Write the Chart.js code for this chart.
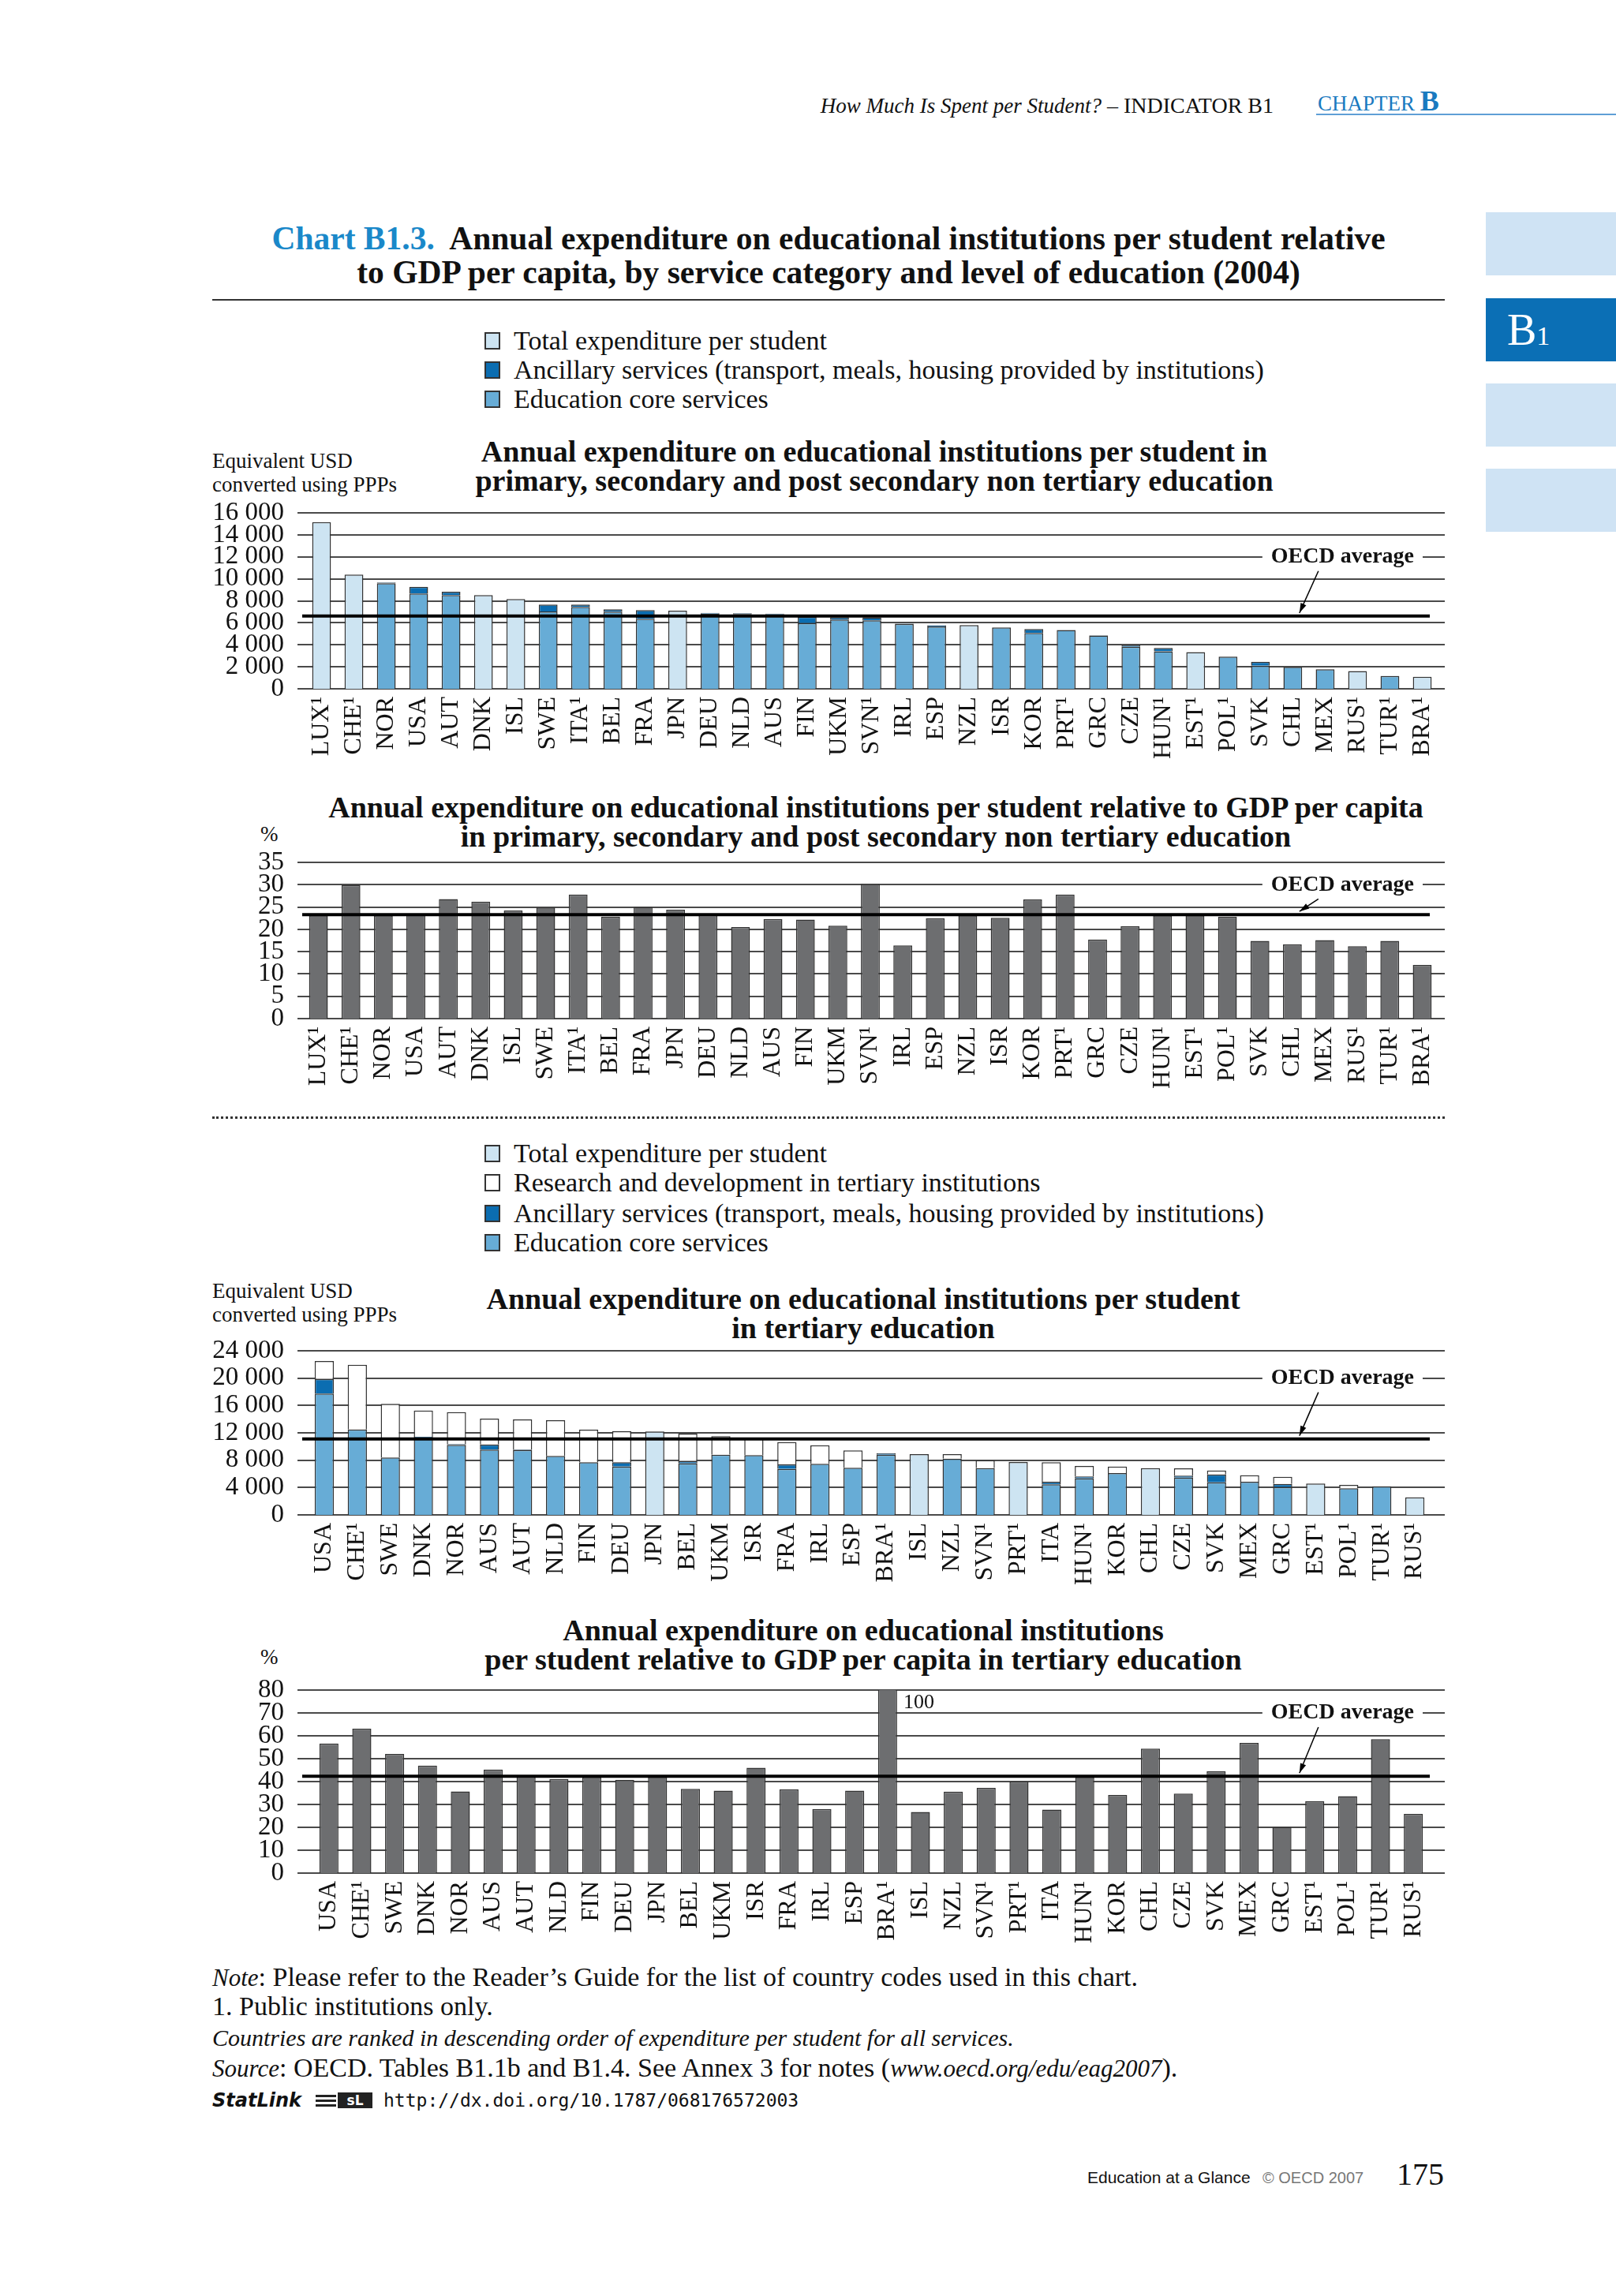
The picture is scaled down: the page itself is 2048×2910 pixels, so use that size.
<!DOCTYPE html>
<html><head><meta charset="utf-8">
<script src="https://cdn.jsdelivr.net/npm/chart.js@4"></script>
<style>
html,body{margin:0;padding:0;background:#fff;}
body{width:2048px;height:2910px;position:relative;overflow:hidden;font-family:"Liberation Serif",serif;color:#111;}
.abs{position:absolute;white-space:nowrap;}
.cc{position:absolute;left:0;width:2048px;}
.sq{position:absolute;left:614px;width:20px;height:22px;border:2px solid #333;box-sizing:border-box;}
.leg{position:absolute;left:651px;font-size:34px;line-height:36px;white-space:nowrap;}
.sub{position:absolute;font-weight:bold;font-size:38px;line-height:37px;text-align:center;white-space:nowrap;width:1800px;}
.unit{position:absolute;left:269px;font-size:27px;line-height:30px;white-space:nowrap;}
.tab{position:absolute;left:1883px;width:165px;height:80px;background:#cfe3f4;}
.foot{position:absolute;left:269px;font-size:34px;line-height:38px;white-space:nowrap;}
.foot i{font-size:31px;}
</style></head><body>

<!-- running header -->
<div class="abs" style="right:434px;top:116px;line-height:36px;"><span style="font-style:italic;font-size:27px;">How Much Is Spent per Student?</span><span style="font-size:28px;"> – INDICATOR B1</span></div>
<div class="abs" style="left:1670px;top:108px;line-height:40px;color:#1a7abf;"><span style="font-size:27px;">CHAPTER </span><span style="font-size:36px;font-weight:bold;">B</span></div>
<div class="abs" style="left:1668px;top:144px;width:380px;height:2px;background:#5f9fd6;"></div>

<!-- side tabs -->
<div class="tab" style="top:269px;"></div>
<div class="tab" style="top:378px;background:#0b6fb5;"><div class="abs" style="left:27px;top:8px;color:#fff;line-height:64px;"><span style="font-size:56px;">B</span><span style="font-size:34px;">1</span></div></div>
<div class="tab" style="top:486px;"></div>
<div class="tab" style="top:594px;"></div>

<!-- main title -->
<div class="abs" style="left:250px;width:1600px;top:281px;text-align:center;font-weight:bold;font-size:41.5px;line-height:43px;"><span style="color:#1a88c9;">Chart B1.3.</span>&nbsp; Annual expenditure on educational institutions per student relative<br>to GDP per capita, by service category and level of education (2004)</div>
<div class="abs" style="left:269px;top:379px;width:1562px;height:2px;background:#333;"></div>

<!-- legend 1 -->
<div class="sq" style="top:421px;background:#cde4f2;"></div><div class="leg" style="top:414px;">Total expenditure per student</div>
<div class="sq" style="top:458px;background:#0b6db1;"></div><div class="leg" style="top:451px;">Ancillary services (transport, meals, housing provided by institutions)</div>
<div class="sq" style="top:495px;background:#67acd6;"></div><div class="leg" style="top:488px;">Education core services</div>

<!-- chart 1 texts -->
<div class="unit" style="top:569px;">Equivalent USD<br>converted using PPPs</div>
<div class="sub" style="left:208px;top:554px;">Annual expenditure on educational institutions per student in<br>primary, secondary and post secondary non tertiary education</div>
<div class="cc" style="top:595px;height:385px;"><canvas id="c1"></canvas></div>

<!-- chart 2 texts -->
<div class="unit" style="left:330px;top:1042px;">%</div>
<div class="sub" style="left:210px;top:1005px;">Annual expenditure on educational institutions per student relative to GDP per capita<br>in primary, secondary and post secondary non tertiary education</div>
<div class="cc" style="top:1038px;height:357px;"><canvas id="c2"></canvas></div>

<div class="abs" style="left:269px;top:1415px;width:1562px;height:0;border-top:3px dotted #333;"></div>

<!-- legend 2 -->
<div class="sq" style="top:1451px;background:#cde4f2;"></div><div class="leg" style="top:1444px;">Total expenditure per student</div>
<div class="sq" style="top:1488px;background:#fff;"></div><div class="leg" style="top:1481px;">Research and development in tertiary institutions</div>
<div class="sq" style="top:1527px;background:#0b6db1;"></div><div class="leg" style="top:1520px;">Ancillary services (transport, meals, housing provided by institutions)</div>
<div class="sq" style="top:1564px;background:#67acd6;"></div><div class="leg" style="top:1557px;">Education core services</div>

<!-- chart 3 texts -->
<div class="unit" style="top:1621px;">Equivalent USD<br>converted using PPPs</div>
<div class="sub" style="left:194px;top:1628px;">Annual expenditure on educational institutions per student<br>in tertiary education</div>
<div class="cc" style="top:1657px;height:368px;"><canvas id="c3"></canvas></div>

<!-- chart 4 texts -->
<div class="unit" style="left:330px;top:2085px;">%</div>
<div class="sub" style="left:194px;top:2048px;">Annual expenditure on educational institutions<br>per student relative to GDP per capita in tertiary education</div>
<div class="cc" style="top:2087px;height:388px;"><canvas id="c4"></canvas></div>

<!-- notes -->
<div class="foot" style="top:2487px;"><i>Note</i>: Please refer to the Reader’s Guide for the list of country codes used in this chart.</div>
<div class="foot" style="top:2524px;">1. Public institutions only.</div>
<div class="foot" style="top:2563px;"><i style="font-size:30px;">Countries are ranked in descending order of expenditure per student for all services.</i></div>
<div class="foot" style="top:2602px;"><i>Source</i>: OECD. Tables B1.1b and B1.4. See Annex 3 for notes (<i>www.oecd.org/edu/eag2007</i>).</div>
<div class="abs" style="left:269px;top:2647px;line-height:30px;font-family:'DejaVu Sans',sans-serif;font-weight:bold;font-style:italic;font-size:24px;">StatLink</div>
<div class="abs" style="left:400px;top:2652px;width:74px;height:20px;">
  <div class="abs" style="left:0;top:3px;width:26px;height:3px;background:#222;"></div>
  <div class="abs" style="left:0;top:9px;width:26px;height:3px;background:#222;"></div>
  <div class="abs" style="left:0;top:15px;width:26px;height:3px;background:#222;"></div>
  <div class="abs" style="left:28px;top:0;width:44px;height:20px;background:#222;color:#fff;font:bold 17px 'DejaVu Sans',sans-serif;line-height:20px;text-align:center;">sL</div>
</div>
<div class="abs" style="left:486px;top:2647px;line-height:30px;font-family:'DejaVu Sans Mono',monospace;font-size:23px;">http://dx.doi.org/10.1787/068176572003</div>

<!-- page footer -->
<div class="abs" style="left:1378px;top:2747px;line-height:26px;font-family:'Liberation Sans',sans-serif;font-size:21px;">Education at a Glance</div>
<div class="abs" style="left:1600px;top:2747px;line-height:26px;font-family:'Liberation Sans',sans-serif;font-size:20px;color:#777;">© OECD 2007</div>
<div class="abs" style="left:1770px;top:2733px;line-height:46px;font-size:40px;">175</div>

<script>
// ---------- data: primary, secondary and post-secondary non-tertiary ----------
const countriesPrimary = ['LUX¹','CHE¹','NOR','USA','AUT','DNK','ISL','SWE','ITA¹','BEL','FRA','JPN','DEU','NLD','AUS','FIN','UKM','SVN¹','IRL','ESP','NZL','ISR','KOR','PRT¹','GRC','CZE','HUN¹','EST¹','POL¹','SVK','CHL','MEX','RUS¹','TUR¹','BRA¹'];
const corePrimary  = [null,null,9600,8660,8520,null,null,7040,7450,7020,6370,null,6840,6800,6760,5970,6300,6230,5900,5660,null,5580,5080,5340,4850,3820,3410,null,2920,2100,1990,1770,null,1170,null];
const ancPrimary   = [null,null,70,620,310,null,null,620,210,210,790,null,60,70,70,570,220,260,40,120,null,null,360,30,20,140,310,null,20,360,10,20,null,20,null];
const totalPrimary = [15160,10380,null,null,null,8520,8160,null,null,null,null,7110,null,null,null,null,null,null,null,null,5800,null,null,null,null,null,null,3340,null,null,null,null,1620,null,1100];
const gdpPrimary   = [23.1,29.9,23.1,23.5,26.8,26.2,24.2,24.9,27.8,22.8,25.0,24.4,23.2,20.5,22.3,22.2,20.8,30.2,16.4,22.5,23.1,22.6,26.7,27.8,17.7,20.7,23.1,23.1,22.8,17.4,16.6,17.6,16.2,17.4,12.0];
const ticksPrimary    = [0,2000,4000,6000,8000,10000,12000,14000,16000];
const ticksGdpPrimary = [0,5,10,15,20,25,30,35];
const oecdPrimary = 6610;
const oecdGdpPrimary = 23.3;

// ---------- data: tertiary ----------
const countriesTertiary = ['USA','CHE¹','SWE','DNK','NOR','AUS','AUT','NLD','FIN','DEU','JPN','BEL','UKM','ISR','FRA','IRL','ESP','BRA¹','ISL','NZL','SVN¹','PRT¹','ITA','HUN¹','KOR','CHL','CZE','SVK','MEX','GRC','EST¹','POL¹','TUR¹','RUS¹'];
const coreTertiary  = [17730,12500,8380,11300,10230,9540,9480,8620,7690,7080,null,7540,8810,8730,6730,7460,6880,8810,null,8230,6850,null,4460,5350,6120,null,5460,4770,4850,4080,null,3880,4190,null];
const ancTertiary   = [2150,null,null,120,120,770,100,null,null,610,null,340,null,null,650,null,null,190,null,null,null,null,390,270,null,null,270,1150,null,460,null,null,null,null];
const rdTertiary    = [2620,9460,7850,3850,4690,3770,4380,5230,4770,4580,null,4000,2690,2580,3270,2730,2540,null,null,650,1150,null,2840,1530,960,null,1080,580,960,1040,null,500,null,null];
const totalTertiary = [null,null,null,null,null,null,null,null,null,null,12190,null,null,null,null,null,null,null,8880,null,null,7730,null,null,null,6850,null,null,null,null,4580,null,null,2580];
const gdpTertiary   = [56.6,63.1,52.1,47.0,35.7,45.3,42.1,41.1,42.0,40.8,42.0,36.8,36.0,46.0,36.6,28.0,36.0,100,26.7,35.6,37.2,40.0,27.8,42.0,34.1,54.4,34.7,44.5,56.9,20.2,31.4,33.6,58.5,25.9];
const ticksTertiary    = [0,4000,8000,12000,16000,20000,24000];
const ticksGdpTertiary = [0,10,20,30,40,50,60,70,80];
const oecdTertiary = 11120;
const oecdGdpTertiary = 42.3;

// ---------- styles ----------
const C_CORE = '#67acd6', C_ANC = '#0b6db1', C_TOTAL = '#cde4f2', C_RD = '#ffffff', C_GDP = '#6d6e70';
const SERIF = '"Liberation Serif", serif';

const fmt = v => String(v).replace(/\B(?=(\d{3})+(?!\d))/g, ' ');

const decor = {
  id: 'decor',
  beforeDatasetsDraw(chart, args, o) {
    const {ctx} = chart, y = chart.scales.y;
    ctx.save();
    ctx.strokeStyle = '#4a4a4a';
    ctx.lineWidth = 2;
    y.ticks.forEach(t => {
      const py = Math.round(y.getPixelForValue(t.value));
      ctx.beginPath(); ctx.moveTo(o.gridLeft, py); ctx.lineTo(o.gridRight, py); ctx.stroke();
    });
    const ly = y.getPixelForValue(o.labelValue);
    ctx.font = 'bold 28px ' + SERIF;
    const w = ctx.measureText('OECD average').width;
    const lx = o.gridRight - 39 - w;
    ctx.fillStyle = '#fff';
    ctx.fillRect(lx - 11, ly - 18, w + 22, 36);
    ctx.fillStyle = '#111';
    ctx.textBaseline = 'middle';
    ctx.fillText('OECD average', lx, ly);
    chart.$lab = {lx, ly};
    ctx.restore();
  },
  afterDatasetsDraw(chart, args, o) {
    const {ctx} = chart, y = chart.scales.y, a = chart.chartArea;
    ctx.save();
    const ay = y.getPixelForValue(o.avg);
    ctx.strokeStyle = '#000';
    ctx.lineWidth = 4;
    ctx.beginPath(); ctx.moveTo(o.avgLeft, ay); ctx.lineTo(o.avgRight, ay); ctx.stroke();
    // arrow
    const {lx, ly} = chart.$lab;
    const x0 = lx + 60, y0 = ly + 18, x1 = lx + 36, y1 = ay - 4;
    ctx.lineWidth = 1.5;
    ctx.beginPath(); ctx.moveTo(x0, y0); ctx.lineTo(x1, y1); ctx.stroke();
    const ang = Math.atan2(y1 - y0, x1 - x0), L = 13;
    ctx.fillStyle = '#000';
    ctx.beginPath();
    ctx.moveTo(x1, y1);
    ctx.lineTo(x1 - L * Math.cos(ang - 0.3), y1 - L * Math.sin(ang - 0.3));
    ctx.lineTo(x1 - L * Math.cos(ang + 0.3), y1 - L * Math.sin(ang + 0.3));
    ctx.closePath(); ctx.fill();
    // label for clipped bar
    if (o.clipLabel) {
      const meta = chart.getDatasetMeta(0);
      chart.data.datasets[0].data.forEach((v, i) => {
        if (v > y.max) {
          const el = meta.data[i];
          ctx.font = '26px ' + SERIF;
          ctx.fillStyle = '#111';
          ctx.textBaseline = 'middle';
          ctx.fillText(String(v), el.x + el.width / 2 + 8, a.top + 16);
        }
      });
    }
    ctx.restore();
  }
};

function build(id, g, labels, datasets, ticks, avg, labelValue, clipLabel) {
  return new Chart(document.getElementById(id), {
    type: 'bar',
    data: {labels, datasets},
    options: {
      responsive: true, maintainAspectRatio: false, animation: false, devicePixelRatio: 1,
      layout: {padding: {left: 0, right: 2048 - g.catRight, top: g.plotTop - g.T, bottom: 0}},
      datasets: {bar: {categoryPercentage: 1, barPercentage: 0.58, borderColor: '#333', borderWidth: 1.5, borderSkipped: 'start'}},
      plugins: {
        legend: {display: false}, tooltip: {enabled: false},
        decor: {gridLeft: 377, gridRight: 1831, avgLeft: 383, avgRight: 1812, avg, labelValue, clipLabel}
      },
      scales: {
        x: {
          stacked: true,
          grid: {display: false, drawTicks: false}, border: {display: false},
          ticks: {autoSkip: false, minRotation: 90, maxRotation: 90, padding: 10, color: '#111', font: {family: SERIF, size: 32}},
          afterFit(s) { s.height = g.T + g.H - g.plotBottom; }
        },
        y: {
          stacked: true, min: 0, max: ticks[ticks.length - 1],
          grid: {display: false, drawTicks: false}, border: {display: false},
          afterBuildTicks(s) { s.ticks = ticks.map(v => ({value: v})); },
          ticks: {autoSkip: false, padding: g.catLeft - 360, color: '#111', font: {family: SERIF, size: 33, lineHeight: 1}, callback: v => fmt(v)},
          afterFit(s) { s.width = g.catLeft; }
        }
      }
    },
    plugins: [decor]
  });
}

build('c1', {T: 595, H: 385, plotTop: 650, plotBottom: 873, catLeft: 387, catRight: 1823},
  countriesPrimary,
  [
    {data: corePrimary, backgroundColor: C_CORE},
    {data: ancPrimary, backgroundColor: C_ANC},
    {data: totalPrimary, backgroundColor: C_TOTAL}
  ], ticksPrimary, oecdPrimary, 12000, false);

build('c2', {T: 1038, H: 357, plotTop: 1093, plotBottom: 1291, catLeft: 383, catRight: 1823},
  countriesPrimary,
  [{data: gdpPrimary, backgroundColor: C_GDP}], ticksGdpPrimary, oecdGdpPrimary, 30, false);

build('c3', {T: 1657, H: 368, plotTop: 1712, plotBottom: 1920, catLeft: 390, catRight: 1814},
  countriesTertiary,
  [
    {data: coreTertiary, backgroundColor: C_CORE},
    {data: ancTertiary, backgroundColor: C_ANC},
    {data: rdTertiary, backgroundColor: C_RD},
    {data: totalTertiary, backgroundColor: C_TOTAL}
  ], ticksTertiary, oecdTertiary, 20000, false);

build('c4', {T: 2087, H: 388, plotTop: 2142, plotBottom: 2374, catLeft: 396, catRight: 1812},
  countriesTertiary,
  [{data: gdpTertiary, backgroundColor: C_GDP}], ticksGdpTertiary, oecdGdpTertiary, 70, true);
</script>
</body></html>
